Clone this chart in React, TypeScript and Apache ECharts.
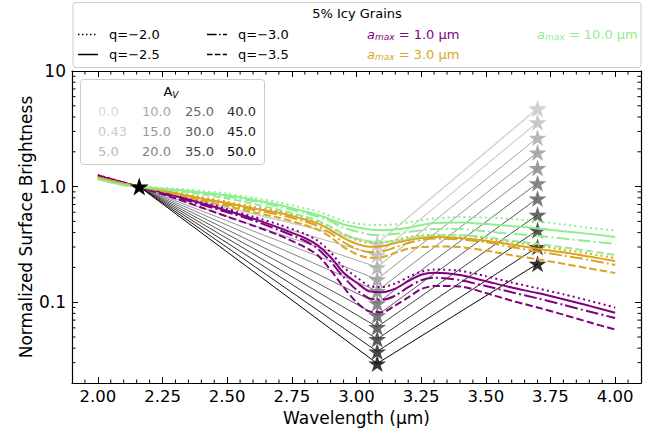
import React, { useEffect, useRef } from 'react';
import * as echarts from 'echarts';

// ---------- data ----------
const wavelengths = [2.0, 2.1, 2.16, 2.2, 2.3, 2.4, 2.5, 2.6, 2.7, 2.8, 2.85, 2.9, 2.95, 3.0, 3.05, 3.1, 3.15, 3.2, 3.25, 3.3, 3.4, 3.5, 3.6, 3.7, 3.8, 3.9, 4.0];

// a_max = 1.0 um
const a1_q20 = [1.26, 1.09, 1.0, 0.96, 0.85, 0.74, 0.64, 0.55, 0.47, 0.39, 0.34, 0.27, 0.20, 0.165, 0.138, 0.135, 0.145, 0.165, 0.183, 0.192, 0.187, 0.168, 0.148, 0.132, 0.117, 0.103, 0.09];
const a1_q25 = [1.24, 1.08, 1.0, 0.95, 0.83, 0.72, 0.62, 0.53, 0.44, 0.36, 0.31, 0.245, 0.18, 0.148, 0.124, 0.122, 0.131, 0.152, 0.173, 0.18, 0.172, 0.152, 0.134, 0.12, 0.106, 0.093, 0.081];
const a1_q30 = [1.24, 1.08, 1.0, 0.94, 0.81, 0.70, 0.60, 0.51, 0.42, 0.34, 0.29, 0.225, 0.165, 0.128, 0.108, 0.105, 0.114, 0.135, 0.155, 0.163, 0.155, 0.138, 0.122, 0.108, 0.095, 0.083, 0.073];
const a1_q35 = [1.25, 1.08, 1.0, 0.93, 0.79, 0.66, 0.55, 0.46, 0.38, 0.30, 0.255, 0.19, 0.135, 0.10, 0.083, 0.082, 0.094, 0.11, 0.13, 0.138, 0.137, 0.12, 0.103, 0.09, 0.078, 0.067, 0.058];
// a_max = 3.0 um
const a3_q20 = [1.2, 1.06, 1.0, 0.97, 0.89, 0.81, 0.74, 0.67, 0.61, 0.54, 0.50, 0.445, 0.385, 0.345, 0.325, 0.327, 0.345, 0.365, 0.378, 0.383, 0.378, 0.357, 0.332, 0.308, 0.285, 0.263, 0.241];
const a3_q25 = [1.2, 1.06, 1.0, 0.97, 0.88, 0.79, 0.72, 0.65, 0.594, 0.52, 0.48, 0.42, 0.36, 0.32, 0.302, 0.305, 0.325, 0.345, 0.36, 0.367, 0.36, 0.34, 0.315, 0.29, 0.27, 0.248, 0.227];
const a3_q30 = [1.2, 1.06, 1.0, 0.96, 0.87, 0.78, 0.70, 0.63, 0.571, 0.50, 0.455, 0.395, 0.33, 0.29, 0.272, 0.275, 0.298, 0.325, 0.345, 0.355, 0.35, 0.33, 0.30, 0.275, 0.253, 0.232, 0.21];
const a3_q35 = [1.2, 1.06, 1.0, 0.96, 0.86, 0.76, 0.68, 0.60, 0.538, 0.465, 0.425, 0.365, 0.30, 0.26, 0.242, 0.245, 0.268, 0.29, 0.30, 0.303, 0.30, 0.28, 0.255, 0.235, 0.215, 0.196, 0.179];
// a_max = 10.0 um
const a10_q20 = [1.16, 1.03, 1.0, 0.99, 0.96, 0.92, 0.87, 0.80, 0.73, 0.65, 0.61, 0.555, 0.505, 0.48, 0.468, 0.465, 0.472, 0.49, 0.51, 0.53, 0.545, 0.54, 0.525, 0.50, 0.47, 0.44, 0.417];
const a10_q25 = [1.16, 1.03, 1.0, 0.98, 0.94, 0.89, 0.84, 0.77, 0.697, 0.61, 0.57, 0.52, 0.47, 0.445, 0.425, 0.42, 0.425, 0.44, 0.465, 0.485, 0.49, 0.475, 0.455, 0.435, 0.41, 0.39, 0.367];
const a10_q30 = [1.16, 1.03, 1.0, 0.98, 0.93, 0.88, 0.82, 0.75, 0.67, 0.59, 0.55, 0.50, 0.44, 0.41, 0.385, 0.38, 0.39, 0.405, 0.42, 0.43, 0.43, 0.41, 0.39, 0.375, 0.355, 0.337, 0.319];
const a10_q35 = [1.16, 1.03, 1.0, 0.98, 0.92, 0.86, 0.79, 0.71, 0.631, 0.55, 0.51, 0.45, 0.39, 0.355, 0.335, 0.333, 0.34, 0.355, 0.37, 0.38, 0.38, 0.365, 0.34, 0.32, 0.298, 0.277, 0.256];

const qLabels = ['q=\u22122.0', 'q=\u22122.5', 'q=\u22123.0', 'q=\u22123.5'];
const aMaxLabels = ['1.0', '3.0', '10.0'];

// extinction star points
const avLabels = ['0.0', '0.43', '5.0', '10.0', '15.0', '20.0', '25.0', '30.0', '35.0', '40.0', '45.0', '50.0'];
const refPoint = [2.16, 1.0];
const iceWavelength = 3.08;
const lWavelength = 3.7;
const iceStars = [0.326, 0.319, 0.256, 0.201, 0.158, 0.125, 0.098, 0.077, 0.061, 0.048, 0.0375, 0.0295];
const lStars = [4.8, 4.7, 3.6, 2.65, 1.97, 1.45, 1.07, 0.79, 0.57, 0.42, 0.30, 0.215];

// axis ticks
const xMin = 1.9, xMax = 4.1, yMin = 0.02, yMax = 10;
const xMinorTicks = [1.95, 2.05, 2.1, 2.15, 2.2, 2.3, 2.35, 2.4, 2.45, 2.55, 2.6, 2.65, 2.7, 2.8, 2.85, 2.9, 2.95, 3.05, 3.1, 3.15, 3.2, 3.3, 3.35, 3.4, 3.45, 3.55, 3.6, 3.65, 3.7, 3.8, 3.85, 3.9, 3.95, 4.05];
const yMinorTicks = [0.03, 0.04, 0.05, 0.06, 0.07, 0.08, 0.09, 0.2, 0.3, 0.4, 0.5, 0.6, 0.7, 0.8, 0.9, 2, 3, 4, 5, 6, 7, 8, 9];

// ---------- styles ----------
const FONT = 'DejaVu Sans';
const aColors = ['#800080', '#daa520', '#90ee90'];
const grays = ['#d9d9d9', '#cacaca', '#bababa', '#a8a8a8', '#979797', '#858585', '#6a6a6a', '#575757', '#444444', '#303030', '#1c1c1c', '#000000'];
const LW = 2;
const dashes: (number[] | null)[] = [[2, 3.3], null, [12.8, 3.2, 2, 3.2], [7.4, 3.2]];
const legendDashes: (number[] | null)[] = [[1.5, 2.5], null, [9.6, 2.4, 1.5, 2.4], [5.5, 2.4]];
const STAR = 'path://M100,0 L122.45,69.1 L195.1,69.1 L136.33,111.8 L158.8,180.9 L100,138.2 L41.2,180.9 L63.67,111.8 L4.9,69.1 L77.55,69.1 Z';

export default function App() {
  const ref = useRef<HTMLDivElement>(null);
  useEffect(() => {
    if (!ref.current) return;
    const chart = echarts.init(ref.current, null, { renderer: 'svg' });

    const curveSets = [
      [a1_q20, a1_q25, a1_q30, a1_q35],
      [a3_q20, a3_q25, a3_q30, a3_q35],
      [a10_q20, a10_q25, a10_q30, a10_q35],
    ];

    const series: any[] = [];

    // minor ticks (custom)
    series.push({
      type: 'custom',
      silent: true,
      clip: false,
      z: 10,
      data: yMinorTicks.map((v) => [xMin, v]),
      renderItem: (_p: any, api: any) => {
        const v = api.value(1);
        const l = api.coord([xMin, v]);
        const r = api.coord([xMax, v]);
        return {
          type: 'group',
          children: [
            { type: 'line', shape: { x1: l[0], y1: l[1], x2: l[0] + 3.5, y2: l[1] }, style: { stroke: '#000', lineWidth: 1 } },
            { type: 'line', shape: { x1: r[0] - 3.5, y1: r[1], x2: r[0], y2: r[1] }, style: { stroke: '#000', lineWidth: 1 } },
          ],
        };
      },
    });
    series.push({
      type: 'custom',
      silent: true,
      clip: false,
      z: 10,
      data: xMinorTicks.map((v) => [v, yMin]),
      renderItem: (_p: any, api: any) => {
        const v = api.value(0);
        const b = api.coord([v, yMin]);
        const t = api.coord([v, yMax]);
        return {
          type: 'group',
          children: [
            { type: 'line', shape: { x1: b[0], y1: b[1], x2: b[0], y2: b[1] - 3.5 }, style: { stroke: '#000', lineWidth: 1 } },
            { type: 'line', shape: { x1: t[0], y1: t[1], x2: t[0], y2: t[1] + 3.5 }, style: { stroke: '#000', lineWidth: 1 } },
          ],
        };
      },
    });

    // grey extinction lines
    avLabels.forEach((av, i) => {
      series.push({
        type: 'line',
        name: 'Av ' + av,
        data: [refPoint, [iceWavelength, iceStars[i]], [lWavelength, lStars[i]]],
        symbol: 'none',
        lineStyle: { color: grays[i], width: 1 },
        z: 2,
      });
    });
    // stars
    const starData: any[] = [];
    avLabels.forEach((_av, i) => {
      starData.push({ value: [iceWavelength, iceStars[i]], itemStyle: { color: grays[i] } });
      starData.push({ value: [lWavelength, lStars[i]], itemStyle: { color: grays[i] } });
    });
    series.push({
      type: 'scatter',
      data: starData,
      symbol: STAR,
      symbolSize: [18, 17],
      z: 3,
    });

    // model curves
    curveSets.forEach((set, ai) => {
      set.forEach((vals, qi) => {
        series.push({
          type: 'line',
          name: 'amax ' + aMaxLabels[ai] + ' ' + qLabels[qi],
          data: wavelengths.map((w, k) => [w, vals[k]]),
          symbol: 'none',
          smooth: 0.25,
          lineStyle: {
            color: aColors[ai],
            width: LW,
            type: dashes[qi] ? (dashes[qi] as number[]) : 'solid',
          },
          z: 4,
        });
      });
    });

    // reference star on top
    series.push({
      type: 'scatter',
      data: [refPoint],
      symbol: STAR,
      symbolSize: [19, 18],
      itemStyle: { color: '#000', opacity: 1 },
      z: 6,
    });

    // Legend graphics
    const graphics: any[] = [];
    graphics.push({
      type: 'rect',
      shape: { x: 73, y: 2.5, width: 568, height: 65, r: 3 },
      style: { fill: '#fff', stroke: '#cccccc', lineWidth: 1 },
      z: 50,
    });
    graphics.push({
      type: 'text', x: 357, y: 13.5, z: 51,
      style: { text: '5% Icy Grains', fontFamily: FONT, fontSize: 13, fill: '#000', align: 'center', verticalAlign: 'middle', textAlign: 'center', textVerticalAlign: 'middle' },
    });
    const qPos = [[78, 34.5], [78, 54.5], [207, 34.5], [207, 54.5]];
    qLabels.forEach((lab, qi) => {
      const [x, y] = qPos[qi];
      graphics.push({
        type: 'line', z: 51,
        shape: { x1: x, y1: y, x2: x + 20, y2: y },
        style: { stroke: '#000', lineWidth: 1.5, lineDash: legendDashes[qi] || undefined },
      });
      graphics.push({
        type: 'text', x: x + 31, y, z: 51,
        style: { text: lab, fontFamily: FONT, fontSize: 13, fill: '#000', align: 'left', verticalAlign: 'middle', textAlign: 'left', textVerticalAlign: 'middle' },
      });
    });
    const aPos = [[367, 34.5], [367, 54.5], [537, 34.5]];
    aMaxLabels.forEach((lab, ai) => {
      const [x, y] = aPos[ai];
      const c = aColors[ai];
      graphics.push({
        type: 'text', x, y, z: 51,
        style: {
          text: '{a|a}{s|max}{n| = ' + lab + ' \u00b5m}',
          fontFamily: FONT, fontSize: 13, fill: c,
          align: 'left', verticalAlign: 'middle', textAlign: 'left', textVerticalAlign: 'middle',
          rich: {
            a: { fontFamily: FONT, fontSize: 13, fontStyle: 'italic', fill: c, color: c, lineHeight: 14, verticalAlign: 'top' },
            s: { fontFamily: FONT, fontSize: 9, fontStyle: 'italic', fill: c, color: c, lineHeight: 10, padding: [6, 0, 0, 0], verticalAlign: 'bottom' },
            n: { fontFamily: FONT, fontSize: 13, fill: c, color: c, lineHeight: 14, verticalAlign: 'top' },
          },
        },
      });
    });

    // Av legend
    graphics.push({
      type: 'rect',
      shape: { x: 80.5, y: 79.5, width: 184, height: 85, r: 3 },
      style: { fill: 'rgba(255,255,255,0.8)', stroke: '#cccccc', lineWidth: 1 },
      z: 50,
    });
    graphics.push({
      type: 'text', x: 171, y: 92, z: 51,
      style: {
        text: '{a|A}{s|V}',
        fontFamily: FONT, fontSize: 13, fill: '#000',
        align: 'center', verticalAlign: 'middle', textAlign: 'center', textVerticalAlign: 'middle',
        rich: {
          a: { fontFamily: FONT, fontSize: 13, fill: '#000', color: '#000', lineHeight: 14, verticalAlign: 'top' },
          s: { fontFamily: FONT, fontSize: 9, fontStyle: 'italic', fill: '#000', color: '#000', lineHeight: 10, padding: [6, 0, 0, 0], verticalAlign: 'bottom' },
        },
      },
    });
    const colX = [98, 142, 185, 227];
    const rowY = [111, 131, 151];
    avLabels.forEach((lab, i) => {
      const col = Math.floor(i / 3);
      const row = i % 3;
      graphics.push({
        type: 'text', x: colX[col], y: rowY[row], z: 51,
        style: { text: lab, fontFamily: FONT, fontSize: 13, fill: grays[i], align: 'left', verticalAlign: 'middle', textAlign: 'left', textVerticalAlign: 'middle' },
      });
    });

    const yFmt = (v: number) => {
      const l = Math.log10(v);
      const r = Math.round(l);
      if (Math.abs(l - r) > 1e-6) return '';
      if (r === -1) return '0.1';
      if (r === 0) return '1.0';
      if (r === 1) return '10';
      return '';
    };
    const xFmt = (v: number) => {
      const k = v / 0.25;
      if (Math.abs(k - Math.round(k)) > 1e-6) return '';
      return v.toFixed(2);
    };

    const axisLine = { show: true, onZero: false, lineStyle: { color: '#000', width: 1.2 } };
    const tick = { show: true, inside: true, length: 6, lineStyle: { color: '#000', width: 1 } };

    chart.setOption({
      animation: false,
      backgroundColor: '#fff',
      grid: { left: 72, right: 16, top: 71, bottom: 51, containLabel: false },
      xAxis: [
        {
          type: 'value', min: xMin, max: xMax, minInterval: 0.25, maxInterval: 0.25, position: 'bottom',
          axisLine, axisTick: tick, splitLine: { show: false },
          axisLabel: { formatter: xFmt, fontSize: 16.5, fontFamily: FONT, color: '#000', margin: 5 },
          name: 'Wavelength (\u00b5m)', nameLocation: 'middle', nameGap: 26, nameMoveOverlap: false,
          nameTextStyle: { fontSize: 17, fontFamily: FONT, color: '#000' },
        },
        {
          type: 'value', min: xMin, max: xMax, minInterval: 0.25, maxInterval: 0.25, position: 'top',
          axisLine, axisTick: tick, splitLine: { show: false }, axisLabel: { show: false },
        },
      ],
      yAxis: [
        {
          type: 'log', logBase: 10, min: yMin, max: yMax, position: 'left',
          axisLine, axisTick: tick, splitLine: { show: false }, minorTick: { show: false },
          axisLabel: { formatter: yFmt, fontSize: 17, fontFamily: FONT, color: '#000', margin: 6 },
          name: 'Normalized Surface Brightness', nameLocation: 'middle', nameGap: 38, nameMoveOverlap: false,
          nameTextStyle: { fontSize: 17, fontFamily: FONT, color: '#000' },
        },
        {
          type: 'log', logBase: 10, min: yMin, max: yMax, position: 'right',
          axisLine, axisTick: tick, splitLine: { show: false }, axisLabel: { show: false },
        },
      ],
      graphic: { elements: graphics },
      series,
    });
    return () => chart.dispose();
  }, []);
  return <div ref={ref} style={{ position: 'fixed', left: 0, top: 0, width: 657, height: 434 }} />;
}
